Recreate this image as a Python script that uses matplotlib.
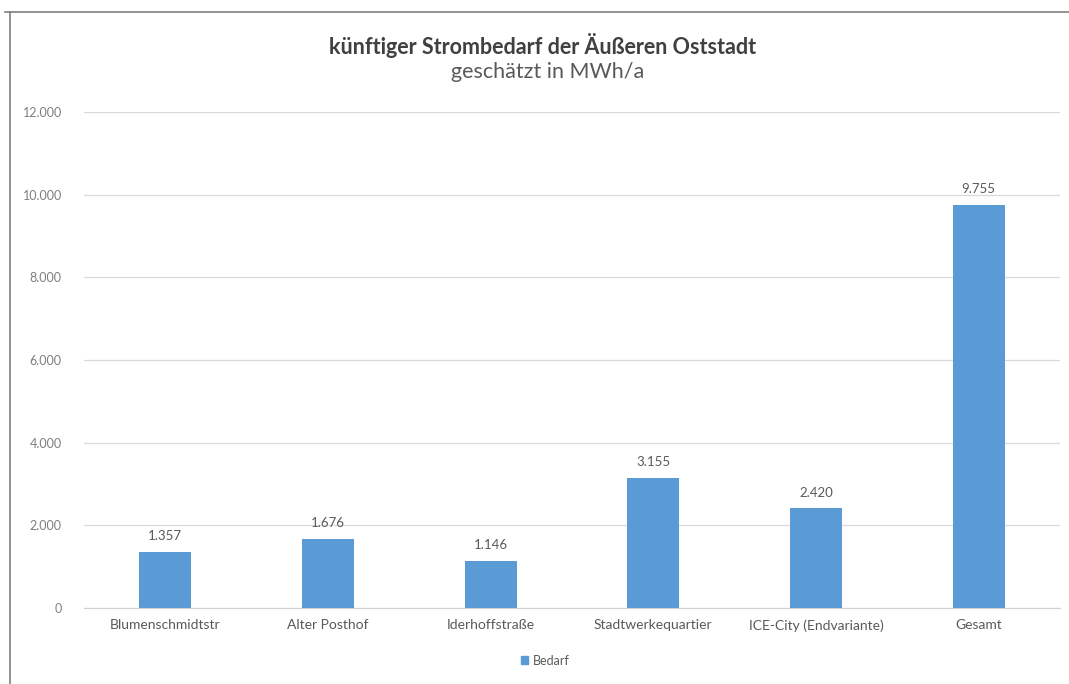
import matplotlib.pyplot as plt
from matplotlib.lines import Line2D
from matplotlib.patches import Patch

categories = ['Blumenschmidtstr', 'Alter Posthof', 'Iderhoffstraße',
              'Stadtwerkequartier', 'ICE-City (Endvariante)', 'Gesamt']
bedarf = [1357, 1676, 1146, 3155, 2420, 9755]
yticks = [0, 2000, 4000, 6000, 8000, 10000, 12000]


def de_fmt(v):
    return f'{v:,.0f}'.replace(',', '.')


plt.rcParams['font.family'] = ['Lato', 'DejaVu Sans']
fig = plt.figure(figsize=(10.69, 6.84), dpi=100)
ax = fig.add_axes([0.0786, 0.111, 0.9130, 0.725])

x = range(len(categories))
bars = ax.bar(x, bedarf, width=0.32, color='#5B9BD5', zorder=3)
for xi, v in zip(x, bedarf):
    ax.text(xi, v + 230, de_fmt(v), ha='center', va='bottom', fontsize=9.5, color='#595959')

ax.set_xlim(-0.5, 5.5)
ax.set_ylim(0, 12000)
ax.set_yticks(yticks)
ax.set_yticklabels([de_fmt(t) for t in yticks], fontsize=9, color='#7f7f7f')
ax.set_xticks(list(x))
ax.set_xticklabels(categories, fontsize=10, color='#595959')
ax.tick_params(axis='both', length=0)
ax.tick_params(axis='y', pad=16)
ax.tick_params(axis='x', pad=8)
ax.grid(axis='y', color='#d9d9d9', linewidth=0.9, zorder=0)
for s in ['top', 'right', 'left']:
    ax.spines[s].set_visible(False)
ax.spines['bottom'].set_color('#d0d0d0')

fig.text(0.508, 0.933, 'künftiger Strombedarf der Äußeren Oststadt', ha='center', va='center',
         fontsize=15.5, fontweight='bold', color='#404040')
fig.text(0.512, 0.895, 'geschätzt in MWh/a', ha='center', va='center',
         fontsize=15.5, color='#595959')

fig.legend(handles=[Patch(color='#5B9BD5', label='Bedarf')], loc='center',
           bbox_to_anchor=(0.51, 0.034), frameon=False, fontsize=9,
           handlelength=0.6, handleheight=0.6, handletextpad=0.4, labelcolor='#595959')

# frame lines of the screenshot
fig.add_artist(Line2D([0.005, 1.0], [0.983, 0.983], color='#7f7f7f', linewidth=1.2))
fig.add_artist(Line2D([0.009, 0.009], [0.0, 0.983], color='#7f7f7f', linewidth=1.2))

fig.savefig('out.png', dpi=100, facecolor='white')
